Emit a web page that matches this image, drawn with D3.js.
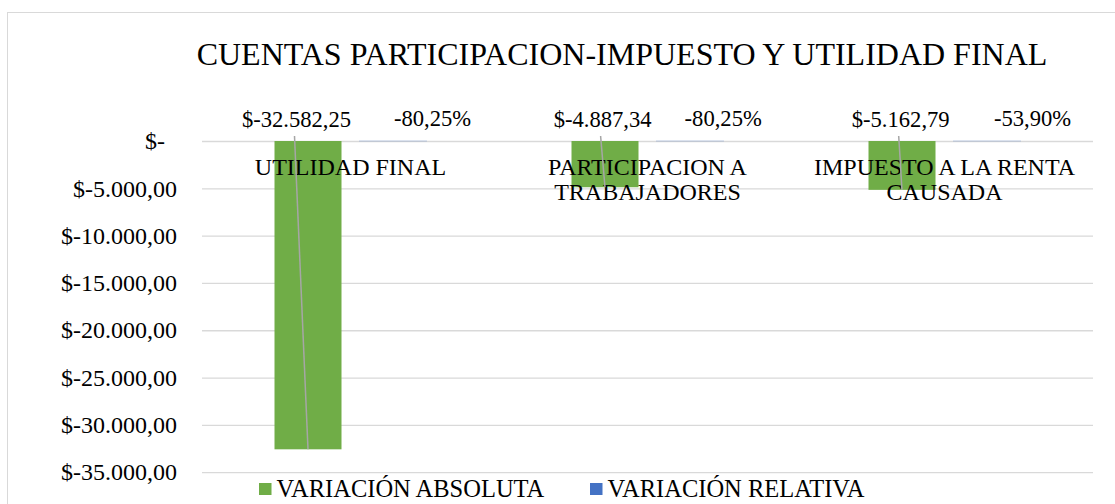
<!DOCTYPE html>
<html>
<head>
<meta charset="utf-8">
<script src="https://cdn.jsdelivr.net/npm/d3@7"></script>
<style>
  body { margin: 0; background: #fff; }
  text { font-family: "Liberation Serif", "Times New Roman", serif; fill: #000; }
</style>
</head>
<body>
<div id="container"></div>
<script>
/* CONSTANTS AND GLOBALS */
const width = 1115;
const height = 504;
const margin = { top: 141, right: 22, bottom: 32, left: 202 };

const title = "CUENTAS PARTICIPACION-IMPUESTO Y UTILIDAD FINAL";

/* DATA */
const categories = ["UTILIDAD FINAL", "PARTICIPACION A TRABAJADORES", "IMPUESTO A LA RENTA CAUSADA"];
const seriesNames = ["VARIACIÓN ABSOLUTA", "VARIACIÓN RELATIVA"];
const absoluta = [-32582.25, -4887.34, -5162.79];
const relativa = [-0.8025, -0.8025, -0.5390];
const absolutaLabels = ["$-32.582,25", "$-4.887,34", "$-5.162,79"];
const relativaLabels = ["-80,25%", "-80,25%", "-53,90%"];
const tickValues = [0, -5000, -10000, -15000, -20000, -25000, -30000, -35000];
const tickLabels = ["$-\u00A0\u00A0", "$-5.000,00", "$-10.000,00", "$-15.000,00", "$-20.000,00", "$-25.000,00", "$-30.000,00", "$-35.000,00"];

// labels were dragged a bit in the original sheet
const absLabelDx = [-11.5, -2.4, -1.3];
const relLabelDx = [39.5, 33.2, 45.5];

const colors = d3.scaleOrdinal().domain(seriesNames).range(["#70AD47", "#4472C4"]);

/* SCALES */
const xScale = d3.scaleBand()
  .domain(categories)
  .range([margin.left, width - margin.right]);

const xSub = d3.scaleBand()
  .domain(seriesNames)
  .range([0, xScale.bandwidth()])
  .paddingInner(0.2118)
  .paddingOuter(0.853);

const yScale = d3.scaleLinear()
  .domain([-35000, 0])
  .range([472.2, margin.top]);

/* SVG */
const svg = d3.select("#container")
  .append("svg")
  .attr("width", width)
  .attr("height", height);

// chart frame
svg.append("rect")
  .attr("x", 7.5).attr("y", 12.5)
  .attr("width", width + 20).attr("height", height + 20)
  .attr("fill", "none")
  .attr("stroke", "#d9d9d9");

// title
svg.append("text")
  .attr("x", 622).attr("y", 65)
  .attr("text-anchor", "middle")
  .style("font-size", "32px")
  .text(title);

// grid
const grid = svg.append("g")
  .attr("transform", `translate(${margin.left}, 0)`)
  .call(d3.axisLeft(yScale).tickValues(tickValues)
    .tickSize(-(width - margin.left - margin.right)).tickFormat(""));
grid.select(".domain").remove();
grid.selectAll("line").attr("stroke", "#d9d9d9").attr("stroke-width", 1.3);

// y axis labels
const yAxis = svg.append("g")
  .attr("transform", `translate(177, 0)`)
  .call(d3.axisLeft(yScale).tickValues(tickValues).tickSize(0).tickPadding(0)
    .tickFormat((d, i) => tickLabels[i]));
yAxis.select(".domain").remove();
yAxis.selectAll("text")
  .style("font-family", '"Liberation Serif", "Times New Roman", serif')
  .style("font-size", "24px")
  .attr("fill", "#000");

// bars
const rows = categories.map((c, i) => ({ cat: c, i: i, values: [absoluta[i], relativa[i]] }));

const groups = svg.selectAll(".grp")
  .data(rows)
  .join("g")
  .attr("class", "grp")
  .attr("transform", d => `translate(${xScale(d.cat)}, 0)`);

groups.selectAll("rect")
  .data(d => seriesNames.map((s, k) => ({ s: s, v: d.values[k] })))
  .join("rect")
  .attr("x", d => xSub(d.s))
  .attr("width", xSub.bandwidth())
  .attr("y", d => yScale(Math.max(0, d.v)))
  .attr("height", d => Math.abs(yScale(d.v) - yScale(0)))
  .attr("fill", d => colors(d.s))
  .attr("stroke", d => d.s === seriesNames[1] ? colors(d.s) : "none")
  .attr("stroke-opacity", 0.3);

// category labels (wrapped)
const catText = svg.selectAll(".cat")
  .data(categories)
  .join("text")
  .attr("class", "cat")
  .attr("text-anchor", "middle")
  .style("font-size", "24px");

catText.each(function (d) {
  const t = d3.select(this);
  const x = xScale(d) + xScale.bandwidth() / 2;
  const words = d.split(" ");
  let lines = [], line = [];
  const tmp = t.append("tspan");
  words.forEach(w => {
    const test = line.concat(w).join(" ");
    tmp.text(test);
    if (line.length && tmp.node().getComputedTextLength() > xScale.bandwidth() * 0.95) {
      lines.push(line.join(" "));
      line = [w];
    } else {
      line.push(w);
    }
  });
  lines.push(line.join(" "));
  tmp.remove();
  lines.forEach((l, k) => {
    t.append("tspan").attr("x", x).attr("y", 175 + k * 25).text(l);
  });
});

// leader lines
svg.selectAll(".leader")
  .data(rows)
  .join("line")
  .attr("class", "leader")
  .attr("x1", d => xScale(d.cat) + xSub(seriesNames[0]) + xSub.bandwidth() / 2 + absLabelDx[d.i] - 2)
  .attr("y1", 136)
  .attr("x2", d => xScale(d.cat) + xSub(seriesNames[0]) + xSub.bandwidth() / 2)
  .attr("y2", d => yScale(absoluta[d.i]))
  .attr("stroke", "#a6a6a6")
  .attr("stroke-width", 1.5);

// data labels
svg.selectAll(".absLbl")
  .data(rows)
  .join("text")
  .attr("class", "absLbl")
  .attr("text-anchor", "middle")
  .attr("x", d => xScale(d.cat) + xSub(seriesNames[0]) + xSub.bandwidth() / 2 + absLabelDx[d.i])
  .attr("y", 127)
  .style("font-size", "22.6px")
  .text(d => absolutaLabels[d.i]);

svg.selectAll(".relLbl")
  .data(rows)
  .join("text")
  .attr("class", "relLbl")
  .attr("text-anchor", "middle")
  .attr("x", d => xScale(d.cat) + xSub(seriesNames[1]) + xSub.bandwidth() / 2 + relLabelDx[d.i])
  .attr("y", 126)
  .style("font-size", "22.6px")
  .text(d => relativaLabels[d.i]);

// legend
const legendX = [259, 590];
const legend = svg.selectAll(".leg")
  .data(seriesNames)
  .join("g")
  .attr("class", "leg")
  .attr("transform", (d, i) => `translate(${legendX[i]}, 483)`);

legend.append("rect")
  .attr("width", 12.5).attr("height", 12)
  .attr("fill", d => colors(d));

legend.append("text")
  .attr("x", 17.5).attr("y", 14)
  .style("font-size", "24.5px")
  .text(d => d);
</script>
</body>
</html>
